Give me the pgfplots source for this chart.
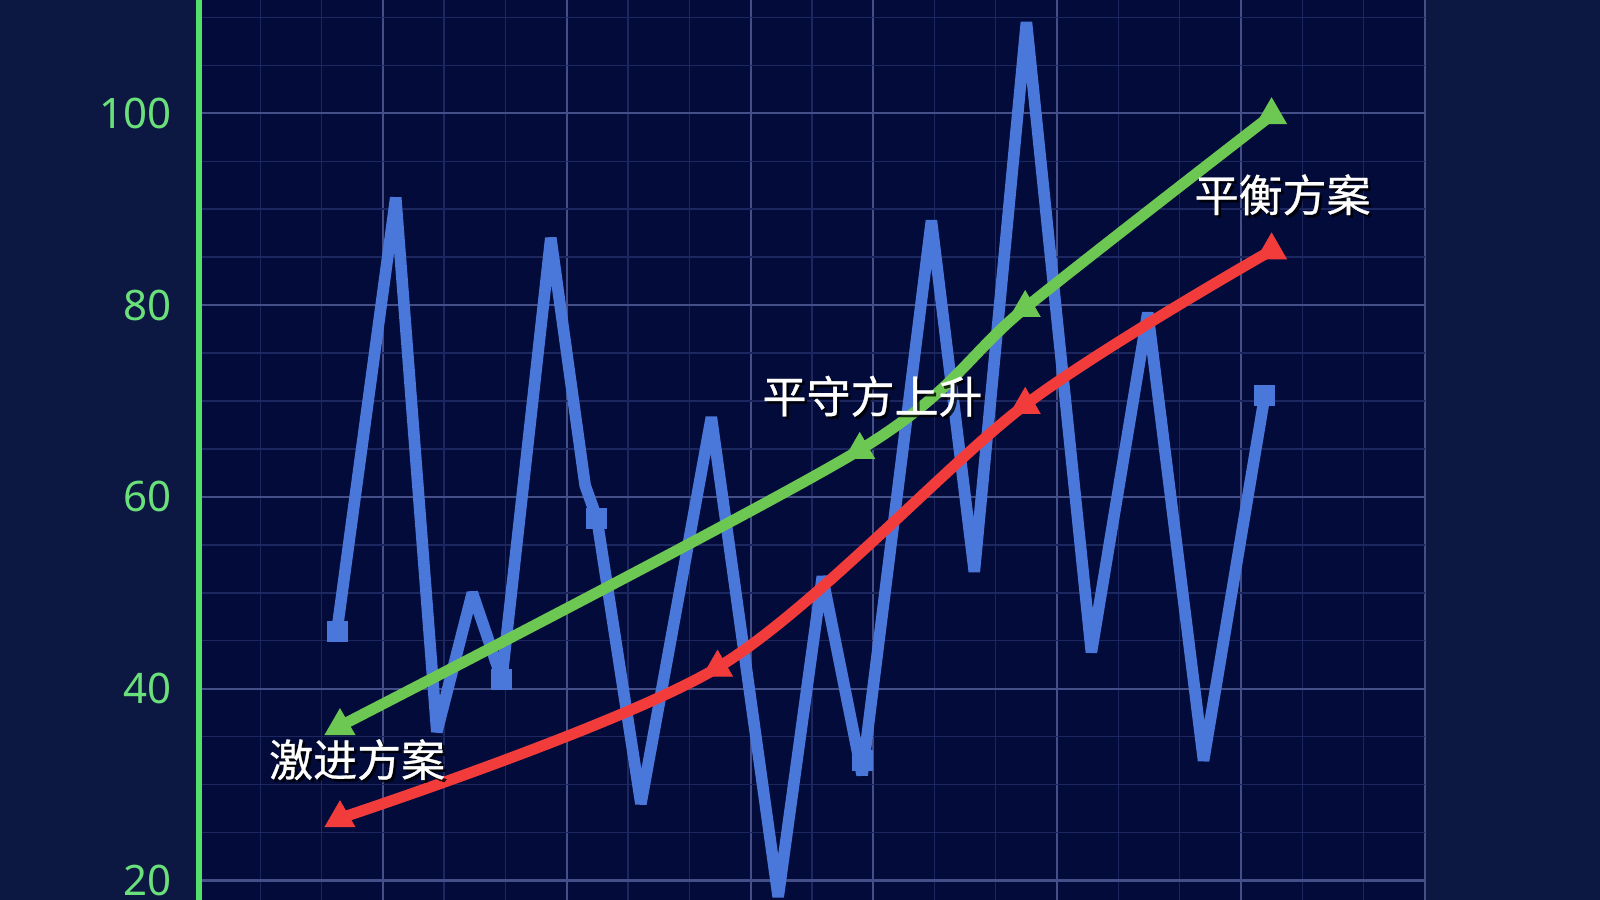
\documentclass[border=0pt]{standalone}
\usepackage{pgfplots}
\pgfplotsset{compat=1.18}
\usepackage{fontspec}
\setmainfont{Noto Sans}
\newfontfamily\cjk{Noto Sans CJK SC}[FakeBold=0.7]
\definecolor{bgout}{HTML}{0C1742}
\definecolor{bgin}{HTML}{020B3A}
\definecolor{gridmaj}{HTML}{434F86}
\definecolor{gridmin}{HTML}{1C265F}
\definecolor{lblue}{HTML}{4A77DA}
\definecolor{lgreen}{HTML}{6DC853}
\definecolor{lred}{HTML}{F23C3C}
\definecolor{axgreen}{HTML}{52E06A}
\definecolor{tickgreen}{HTML}{6AE07A}
\tikzset{
  shd/.style={text=black, opacity=0.8, font=\cjk\fontsize{22bp}{22bp}\selectfont, inner sep=0pt, xshift=1.3bp, yshift=-1.3bp},
  lbl/.style={text=white, font=\cjk\fontsize{22bp}{22bp}\selectfont, inner sep=0pt},
}
\begin{document}
\begin{tikzpicture}
\path[use as bounding box] (0,0) rectangle (800bp,450bp);
\clip (0,0) rectangle (800bp,450bp);
\fill[bgout] (0,0) rectangle (800bp,450bp);
\begin{axis}[
  at={(99.5bp,0bp)}, anchor=south west,
  scale only axis, width=612.9bp, height=450bp,
  xmin=0, xmax=20, ymin=17.97, ymax=111.81,
  axis background/.style={fill=bgin},
  axis lines*=left,
  x axis line style={draw=none},
  y axis line style={draw=axgreen, line width=3bp},
  xtick={3,6,9,11,14,17,20}, xticklabels={},
  minor xtick={0,1,...,20},
  ytick={20,40,60,80,100},
  minor ytick={20,25,...,110},
  grid=both,
  major grid style={draw=gridmaj, line width=1.1bp},
  minor grid style={draw=gridmin, line width=0.7bp},
  major tick length=0pt, minor tick length=0pt,
  /pgf/number format/assume math mode=true,
  yticklabel style={text=tickgreen, font=\fontsize{21bp}{21bp}\selectfont, anchor=east, inner sep=0pt, xshift=-13.5bp},
]
% blue zigzag series
\addplot[color=lblue, line width=5.8bp, line join=bevel] coordinates {
(2.25,46.0) (3.21,91.2) (3.88,35.5) (4.46,50.0) (4.94,41.0) (5.74,87.0)
(6.30,61.2) (6.49,57.8) (7.21,28.0) (8.36,68.3) (9.45,18.3) (10.17,51.7)
(10.82,31.0) (11.95,88.8) (12.65,52.2) (13.50,109.5) (14.56,43.8)
(15.48,79.2) (16.39,32.5) (17.39,70.6)
};
\addplot[only marks, color=lblue, mark=square*, mark size=5bp] coordinates {
(2.25,46.0) (4.94,41.0) (6.49,57.8) (10.82,32.5) (17.39,70.6)
};
% green series
\addplot[color=lgreen, line width=5.5bp, smooth, mark=triangle*, mark size=8.5bp, mark options={line width=0.5bp, fill=lgreen}] coordinates {
(2.30,36.1) (10.78,64.9) (13.48,79.7) (17.50,99.8)
};
% red series
\addplot[color=lred, line width=5.5bp, smooth, mark=triangle*, mark size=8.5bp, mark options={line width=0.5bp, fill=lred}] coordinates {
(2.30,26.5) (8.46,42.2) (13.48,69.6) (17.50,85.7)
};
% labels
\node[shd] at (axis cs:2.58,32.6) {激进方案};
\node[lbl] at (axis cs:2.58,32.6) {激进方案};
\node[shd] at (axis cs:10.99,70.5) {平守方上升};
\node[lbl] at (axis cs:10.99,70.5) {平守方上升};
\node[shd] at (axis cs:17.68,91.5) {平衡方案};
\node[lbl] at (axis cs:17.68,91.5) {平衡方案};
\end{axis}
\end{tikzpicture}
\end{document}
